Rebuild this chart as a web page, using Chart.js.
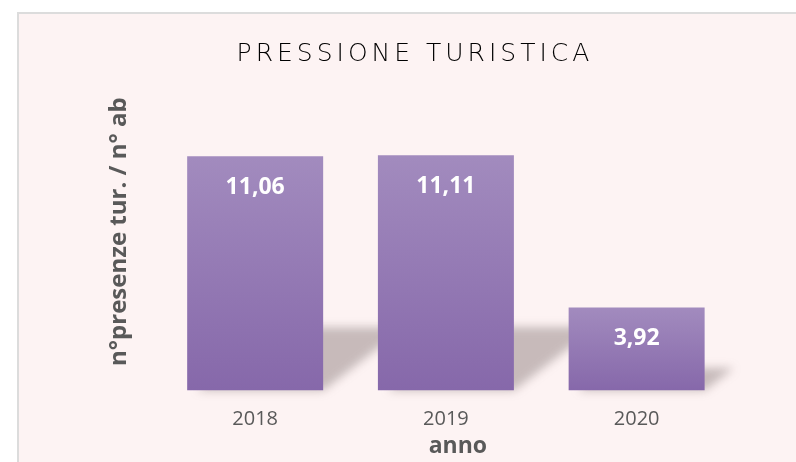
<!DOCTYPE html>
<html lang="it">
<head>
<meta charset="utf-8">
<title>Pressione turistica</title>
<script src="https://cdn.jsdelivr.net/npm/chart.js@4.4.1/dist/chart.umd.min.js"></script>
<style>
    html, body { margin: 0; padding: 0; background: #ffffff; overflow: hidden; }
    body { width: 796px; height: 462px; position: relative; }
    #sfondo {
        position: absolute; left: 17px; top: 12px; width: 800px; height: 470px;
        background: #FDF3F3; border-left: 2px solid #DCDCDC; border-top: 2px solid #DCDCDC;
    }
    #box { position: absolute; left: 17px; top: 12px; width: 779px; height: 450px; }
</style>
</head>
<body>
<div id="sfondo"></div>
<div id="box"><canvas id="turismoChart"></canvas></div>
<script>
const anni = ['2018', '2019', '2020'];
const pressione = [11.06, 11.11, 3.92];

const grigio = '#595959';

// spaziatura larga solo per il titolo (gli assi sono disegnati dopo le barre, z: 1)
const spaziaturaTitolo = {
    id: 'spaziaturaTitolo',
    beforeDraw(chart) {
        chart.ctx.letterSpacing = '4px';
    },
    beforeDatasetsDraw(chart) {
        chart.ctx.letterSpacing = '0px';
    }
};

// ombra obliqua dietro le colonne
const ombraBarre = {
    id: 'ombraBarre',
    beforeDatasetsDraw(chart) {
        const ctx = chart.ctx;
        const meta = chart.getDatasetMeta(0);
        ctx.save();
        ctx.filter = 'blur(5px)';
        ctx.fillStyle = 'rgba(110, 95, 95, 0.38)';
        meta.data.forEach(bar => {
            const xL = bar.x - bar.width / 2;
            const xR = bar.x + bar.width / 2;
            const h = bar.base - bar.y;
            const s = h * 0.35;
            const k = h * 0.27;
            ctx.beginPath();
            ctx.moveTo(xL + 10, bar.base);
            ctx.lineTo(xR, bar.base);
            ctx.lineTo(xR + s, bar.base - k);
            ctx.lineTo(xL + s, bar.base - k);
            ctx.closePath();
            ctx.fill();
        });
        ctx.restore();
    }
};

// etichette dei valori dentro le colonne
const etichette = {
    id: 'etichette',
    afterDatasetsDraw(chart) {
        const ctx = chart.ctx;
        const meta = chart.getDatasetMeta(0);
        ctx.save();
        ctx.font = 'bold 23px "Open Sans", sans-serif';
        ctx.fillStyle = '#ffffff';
        ctx.textAlign = 'center';
        ctx.textBaseline = 'middle';
        meta.data.forEach((bar, i) => {
            ctx.fillText(pressione[i].toFixed(2).replace('.', ','), bar.x, bar.y + 31);
        });
        ctx.restore();
    }
};

const data = {
    labels: anni,
    datasets: [{
        label: 'Pressione turistica',
        data: pressione,
        backgroundColor: function(c) {
            const chart = c.chart;
            const area = chart.chartArea;
            if (!area) return '#9478B3';
            const top = chart.scales.y.getPixelForValue(pressione[c.dataIndex]);
            const g = chart.ctx.createLinearGradient(0, top, 0, area.bottom);
            g.addColorStop(0, '#A28BBE');
            g.addColorStop(1, '#8668AA');
            return g;
        },
        borderWidth: 0,
        categoryPercentage: 1,
        barPercentage: 0.713
    }]
};

const config = {
    type: 'bar',
    data: data,
    plugins: [spaziaturaTitolo, ombraBarre, etichette],
    options: {
        responsive: true,
        maintainAspectRatio: false,
        animation: false,
        layout: {
            padding: { left: 81, right: 64, top: 0, bottom: 2 }
        },
        plugins: {
            legend: { display: false },
            tooltip: { enabled: false },
            title: {
                display: true,
                text: 'PRESSIONE TURISTICA',
                color: '#000000',
                font: { family: 'DejaVu Sans', size: 25, weight: 200 },
                padding: { top: 27, bottom: 4 }
            }
        },
        scales: {
            x: {
                grid: { display: false, drawTicks: false, z: 1 },
                border: { display: false, z: 1 },
                ticks: {
                    z: 1,
                    color: grigio,
                    font: { family: 'Open Sans', size: 20 },
                    padding: 17
                },
                title: {
                    display: true,
                    text: '    anno',
                    color: grigio,
                    font: { family: 'Open Sans', size: 23, weight: 'bold' },
                    padding: { top: -16, bottom: 0 }
                }
            },
            y: {
                min: 0,
                max: 15,
                grid: { display: false, drawTicks: false, z: 1 },
                border: { display: false, z: 1 },
                ticks: { display: false, z: 1 },
                title: {
                    display: true,
                    text: 'n°presenze tur. / n° ab',
                    color: grigio,
                    font: { family: 'Open Sans', size: 24, weight: 'bold' },
                    padding: { top: 7, bottom: 26 }
                }
            }
        }
    }
};

window.onload = function() {
    const ctx = document.getElementById('turismoChart').getContext('2d');
    new Chart(ctx, config);
};
</script>
</body>
</html>
